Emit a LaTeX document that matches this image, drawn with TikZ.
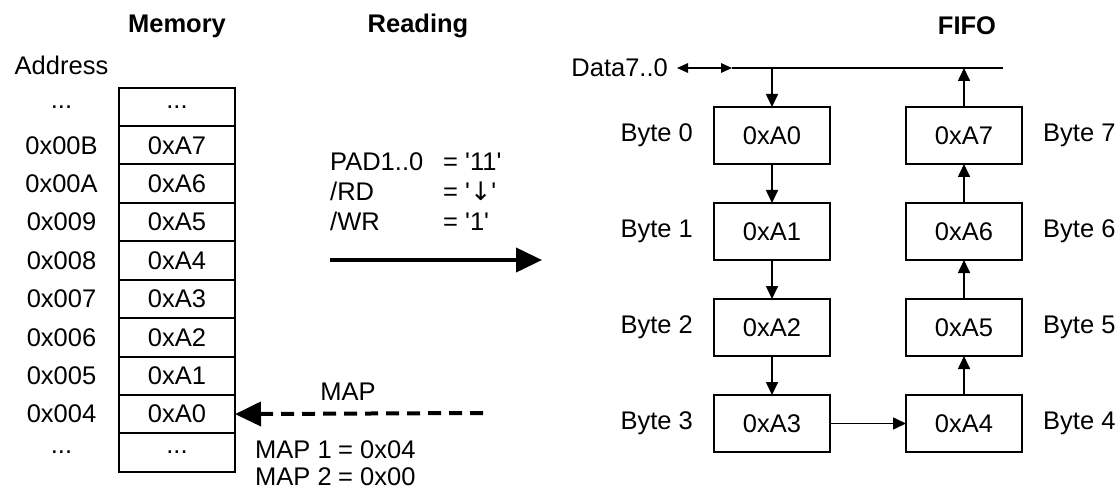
\documentclass[tikz,border=0pt]{standalone}
\usepackage{fontspec}
\setmainfont{Liberation Sans}
\newfontfamily\arrowfont{DejaVu Sans}
\usetikzlibrary{arrows.meta,positioning}

\begin{document}
\begin{tikzpicture}[
    x=1pt, y=-1pt,
    every node/.style={font=\fontsize{25.5}{30}\selectfont},
    head/.style={font=\fontsize{25.5}{30}\selectfont\bfseries},
    cell/.style={draw, line width=2pt, fill=white, minimum width=116pt,
    minimum height=38.4pt, inner sep=0pt, outer sep=0pt},
    fbox/.style={draw, line width=2pt, minimum width=116pt,
    minimum height=57pt, inner sep=0pt, outer sep=0pt},
    lbl/.style={inner sep=0pt},
    arr/.style={-{Triangle[length=13pt,width=12pt]}, line width=1.6pt},
    busarr/.style={{Triangle[length=11pt,width=9.5pt]}-{Triangle[length=11pt,width=9.5pt]},
    line width=1.6pt},
    bigarr/.style={-{Triangle[length=26pt,width=24pt]}, line width=4pt}
]
\useasboundingbox (0,0) rectangle (1118,489);
% titles
\node[head] (hmem) at (177,26) {Memory};
\node[head] (hread) at (418,26) {Reading};
\node[head] (hfifo) at (967,26) {FIFO};
\node (addr) at (61.5,65) {Address};

% memory cells
\node[cell] (m0) at (177,106.9) {...};
\node[cell, below=0pt of m0] (m1) {0xA7};
\node[cell, below=0pt of m1] (m2) {0xA6};
\node[cell, below=0pt of m2] (m3) {0xA5};
\node[cell, below=0pt of m3] (m4) {0xA4};
\node[cell, below=0pt of m4] (m5) {0xA3};
\node[cell, below=0pt of m5] (m6) {0xA2};
\node[cell, below=0pt of m6] (m7) {0xA1};
\node[cell, below=0pt of m7] (m8) {0xA0};
\node[cell, below=0pt of m8] (m9) {...};

% addresses
\coordinate (acol) at (61.5,0);
\node (a0) at (m0 -| acol) {...};
\node (a1) at (m1 -| acol) {0x00B};
\node (a2) at (m2 -| acol) {0x00A};
\node (a3) at (m3 -| acol) {0x009};
\node (a4) at (m4 -| acol) {0x008};
\node (a5) at (m5 -| acol) {0x007};
\node (a6) at (m6 -| acol) {0x006};
\node (a7) at (m7 -| acol) {0x005};
\node (a8) at (m8 -| acol) {0x004};
\node (a9) at (m9 -| acol) {...};

% reading signals
\node[anchor=west, align=left, inner sep=0pt] (sig) at (330,192)
    {\makebox[113pt][l]{PAD1..0}= \textquotesingle 11\textquotesingle\\
     \makebox[113pt][l]{/RD}= \textquotesingle{\arrowfont ↓}\textquotesingle\\
     \makebox[113pt][l]{/WR}= \textquotesingle 1\textquotesingle};
\coordinate (rdA) at (330,260);
\coordinate (rdB) at (542,260);
\draw[bigarr] (rdA) -- (rdB);

% map pointer
\coordinate (mapA) at (483,413);
\draw[bigarr, dash pattern=on 13pt off 8pt] (mapA) -- (m8.east);
\node (maplbl) at (348,392) {MAP};
\node[anchor=west, align=left, inner sep=0pt, font=\fontsize{25.5}{26.5}\selectfont]
    (mapval) at (255,463) {\makebox[83pt][l]{MAP 1}= 0x04\\
     \makebox[83pt][l]{MAP 2}= 0x00};

% fifo
\node[fbox] (b0) at (772,135.5) {0xA0};
\node[fbox, below=39pt of b0] (b1) {0xA1};
\node[fbox, below=39pt of b1] (b2) {0xA2};
\node[fbox, below=39pt of b2] (b3) {0xA3};
\node[fbox] (b7) at (964,135.5) {0xA7};
\node[fbox, below=39pt of b7] (b6) {0xA6};
\node[fbox, below=39pt of b6] (b5) {0xA5};
\node[fbox, below=39pt of b5] (b4) {0xA4};
\node[lbl, left=21pt of b0] (l0) {Byte 0};
\node[lbl, left=21pt of b1] (l1) {Byte 1};
\node[lbl, left=21pt of b2] (l2) {Byte 2};
\node[lbl, left=21pt of b3] (l3) {Byte 3};
\node[lbl, right=21pt of b7] (l7) {Byte 7};
\node[lbl, right=21pt of b6] (l6) {Byte 6};
\node[lbl, right=21pt of b5] (l5) {Byte 5};
\node[lbl, right=21pt of b4] (l4) {Byte 4};

% data bus
\coordinate (busl) at (677,68);
\coordinate (busm) at (732,68);
\coordinate (busr) at (1003,68);
\node[lbl, left=9pt of busl] (data) {Data7..0};
\draw[busarr] (busl) -- (busm);
\draw[line width=1.6pt] (busm) -- (busr);
\draw[arr] (busm -| b0) -- (b0);
\draw[arr] (b0) -- (b1);
\draw[arr] (b1) -- (b2);
\draw[arr] (b2) -- (b3);
\draw[arr] (b3) -- (b4);
\draw[arr] (b4) -- (b5);
\draw[arr] (b5) -- (b6);
\draw[arr] (b6) -- (b7);
\draw[arr] (b7) -- (busm -| b7);
\end{tikzpicture}
\end{document}
